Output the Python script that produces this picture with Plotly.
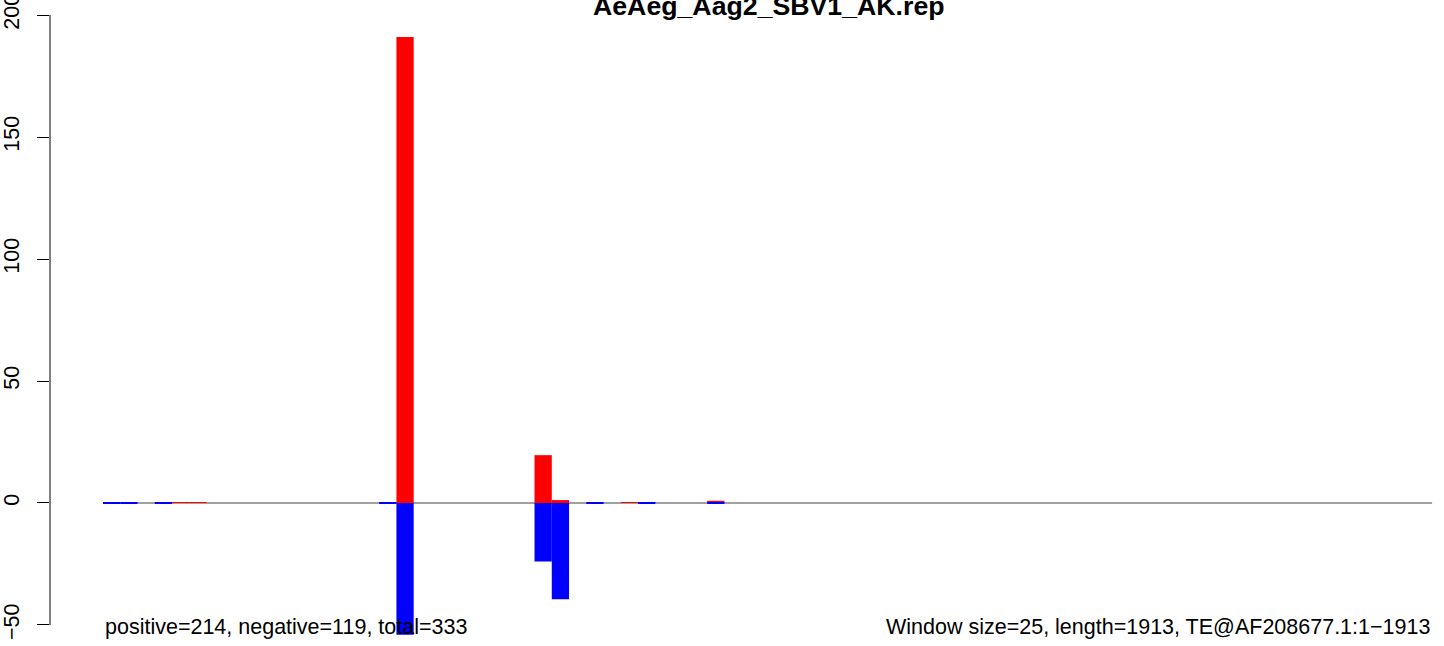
import plotly.graph_objects as go

# window counts (77 windows of 25 nt over 1913 nt)
n_windows = 77
pos_vals = [0.0] * n_windows
neg_vals = [0.0] * n_windows
pos_points = {4: 0.4, 5: 0.4, 16: 0.4, 17: 191.0, 25: 19.6, 26: 1.2, 30: 0.4, 31: 0.4, 35: 0.9}
neg_points = {0: -0.4, 1: -0.4, 3: -0.4, 16: -0.4, 17: -54.0, 25: -24.0, 26: -39.5,
              28: -0.4, 31: -0.4, 35: -0.4}
for k, v in pos_points.items():
    pos_vals[k] = v
for k, v in neg_points.items():
    neg_vals[k] = v
windows = list(range(n_windows))

y_ticks = [-50, 0, 50, 100, 150, 200]
title_text = "AeAeg_Aag2_SBV1_AK.rep"
left_note = "positive=214, negative=119, total=333"
right_note = "Window size=25, length=1913, TE@AF208677.1:1\u22121913"

font = "Liberation Sans, Arial, Helvetica, sans-serif"

fig = go.Figure()
fig.add_trace(go.Bar(x=windows, y=pos_vals, width=1, marker=dict(color="#FF0000", line=dict(width=0))))
fig.add_trace(go.Bar(x=windows, y=neg_vals, width=1, marker=dict(color="#0000FF", line=dict(width=0))))

# zero line under the bars
fig.add_shape(type="line", x0=-0.5, x1=n_windows - 0.5, y0=0, y1=0, xref="x", yref="y",
              line=dict(color="#A0A0A0", width=2), layer="below")
# R-style y axis line spanning the ticks only
fig.add_shape(type="line", x0=0, x1=0, y0=y_ticks[0], y1=y_ticks[-1], xref="paper", yref="y",
              line=dict(color="black", width=1))

fig.add_annotation(text="<b>" + title_text + "</b>", xref="paper", yref="paper",
                   x=0.5158, y=1.008, xanchor="center", yanchor="middle", showarrow=False,
                   font=dict(size=26.7, color="black", family=font))
fig.add_annotation(text=left_note, xref="x", yref="y", x=-0.5, y=-50.8, xanchor="left",
                   yanchor="middle", showarrow=False, font=dict(size=21.5, color="black", family=font))
fig.add_annotation(text=right_note, xref="x", yref="y", x=n_windows - 0.5, y=-50.8, xanchor="right",
                   yanchor="middle", showarrow=False, font=dict(size=21.5, color="black", family=font))

fig.update_layout(
    width=1444, height=646,
    barmode="overlay",
    showlegend=False,
    paper_bgcolor="white", plot_bgcolor="white",
    margin=dict(l=50, r=0, t=11, b=0, pad=0),
    font=dict(family=font, size=21.5, color="black"),
    xaxis=dict(range=[-3.57, 77.19], visible=False, automargin=False),
    yaxis=dict(range=[-58.61, 201.64], tickvals=y_ticks, ticks="outside", ticklen=12,
               tickwidth=1, tickcolor="black", tickangle=-90, showline=False, zeroline=False,
               showgrid=False, automargin=False, ticklabelstandoff=9,
               ticklabeloverflow="allow", tickfont=dict(size=21.5)),
)

# drop the default page margin so the figure sits at the window's corner
fig.write_html("out.html", config={"displayModeBar": False},
               post_script="document.body.style.margin='0';")
